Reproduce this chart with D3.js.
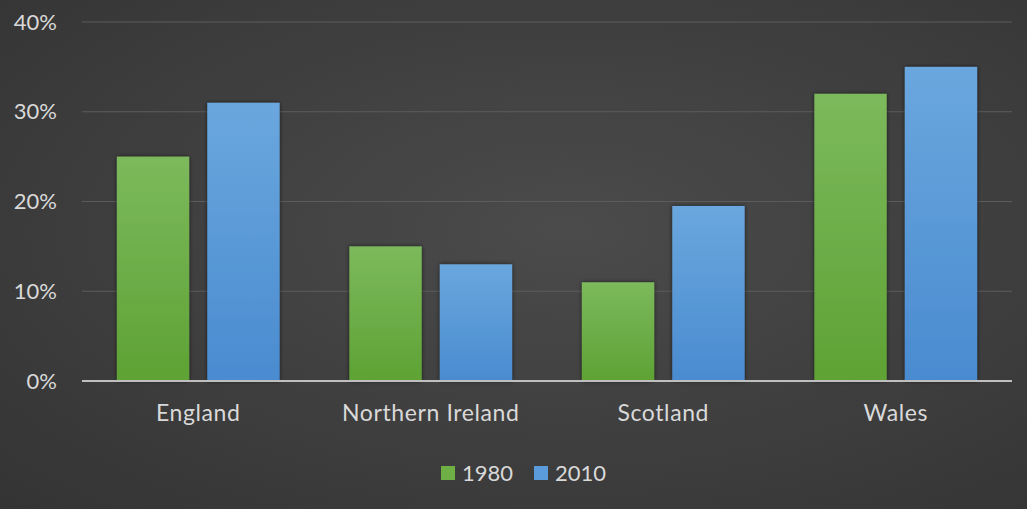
<!DOCTYPE html>
<html>
<head>
<meta charset="utf-8">
<script src="https://cdn.jsdelivr.net/npm/d3@7"></script>
<style>
  body { margin: 0; background: #3a3a3a; }
  svg { display: block; }
</style>
</head>
<body>
<svg id="chart" width="1027" height="509"></svg>
<script>
// data
var regions = ["England", "Northern Ireland", "Scotland", "Wales"];
var years = ["1980", "2010"];
var values1980 = [25, 15, 11, 32];
var values2010 = [31, 13, 19.5, 35];
var yTicks = [0, 10, 20, 30, 40];

var WIDTH = 1027, HEIGHT = 509;
var margin = {top: 22, right: 15, bottom: 128, left: 82};
var width = WIDTH - margin.left - margin.right;
var height = HEIGHT - margin.top - margin.bottom;
var FONT = "Lato, 'Open Sans', sans-serif";

var svg = d3.select("#chart");
var defs = svg.append("defs");

// background: dark radial-ish gradient
var bg = defs.append("radialGradient").attr("id", "bg")
    .attr("cx", "55%").attr("cy", "45%").attr("r", "80%");
bg.append("stop").attr("offset", "0%").attr("stop-color", "#4b4b4b");
bg.append("stop").attr("offset", "100%").attr("stop-color", "#333333");

function barGradient(id, top, bottom) {
    var gr = defs.append("linearGradient").attr("id", id)
        .attr("x1", 0).attr("y1", 0).attr("x2", 0).attr("y2", 1);
    gr.append("stop").attr("offset", "0%").attr("stop-color", top);
    gr.append("stop").attr("offset", "100%").attr("stop-color", bottom);
}
barGradient("g1980", "#7cb95c", "#5ea234");
barGradient("g2010", "#6aa7de", "#4a8bd0");

var shadow = defs.append("filter").attr("id", "shadow")
    .attr("x", "-20%").attr("y", "-20%").attr("width", "140%").attr("height", "140%");
shadow.append("feDropShadow").attr("dx", 0).attr("dy", 0)
    .attr("stdDeviation", 2).attr("flood-color", "#000").attr("flood-opacity", 0.6);

svg.append("rect").attr("width", WIDTH).attr("height", HEIGHT).attr("fill", "url(#bg)");

var g = svg.append("g").attr("transform", "translate(" + margin.left + "," + margin.top + ")");

var xScale = d3.scaleBand().domain(regions).range([0, width])
    .paddingInner(0.3).paddingOuter(0.15);
var xSub = d3.scaleBand().domain(years).range([0, xScale.bandwidth()])
    .paddingInner(0.2).paddingOuter(0);
var yScale = d3.scaleLinear().domain([0, 40]).range([height, 0]);

// gridlines
g.selectAll(".grid")
    .data(yTicks.slice(1))
    .enter().append("line")
    .attr("x1", 0).attr("x2", width)
    .attr("y1", function(d) { return yScale(d); })
    .attr("y2", function(d) { return yScale(d); })
    .attr("stroke", "#5c5c5c")
    .attr("stroke-width", 1.2);

// y axis labels
var yAxis = g.append("g")
    .call(d3.axisLeft(yScale).tickValues(yTicks).tickSize(0).tickPadding(25)
        .tickFormat(function(d) { return d + "%"; }));
yAxis.select(".domain").remove();
yAxis.selectAll("text")
    .attr("fill", "#d9d9d9")
    .style("font-family", FONT)
    .style("font-size", "22px");

// bars
var rows = regions.map(function(r, i) {
    return {region: r, vals: [{year: "1980", v: values1980[i]}, {year: "2010", v: values2010[i]}]};
});

var groups = g.selectAll(".region")
    .data(rows)
    .enter().append("g")
    .attr("transform", function(d) { return "translate(" + xScale(d.region) + ",0)"; });

groups.selectAll("rect")
    .data(function(d) { return d.vals; })
    .enter().append("rect")
    .attr("x", function(d) { return xSub(d.year); })
    .attr("y", function(d) { return yScale(d.v); })
    .attr("width", xSub.bandwidth())
    .attr("height", function(d) { return height - yScale(d.v); })
    .attr("fill", function(d) { return "url(#g" + d.year + ")"; })
    .attr("filter", "url(#shadow)");

// baseline
g.append("line")
    .attr("x1", 0).attr("x2", width)
    .attr("y1", yScale(0)).attr("y2", yScale(0))
    .attr("stroke", "#bfbfbf")
    .attr("stroke-width", 2);

// x axis labels
var xAxis = g.append("g")
    .attr("transform", "translate(0," + height + ")")
    .call(d3.axisBottom(xScale).tickSize(0).tickPadding(24));
xAxis.select(".domain").remove();
xAxis.selectAll("text")
    .attr("fill", "#d9d9d9")
    .style("font-family", FONT)
    .style("font-size", "23px")
    .style("letter-spacing", "0.6px");

// legend
var legend = svg.append("g").attr("transform", "translate(441,473)");
var legendX = [0, 93];
var legendFill = {"1980": "#6fb046", "2010": "#5b9bdc"};
var items = legend.selectAll(".item")
    .data(years)
    .enter().append("g")
    .attr("transform", function(d, i) { return "translate(" + legendX[i] + ",0)"; });
items.append("rect")
    .attr("x", 0).attr("y", -7).attr("width", 14).attr("height", 14)
    .attr("fill", function(d) { return legendFill[d]; });
items.append("text")
    .attr("x", 21).attr("dy", "0.35em")
    .attr("fill", "#d9d9d9")
    .style("font-family", FONT)
    .style("font-size", "22px")
    .text(function(d) { return d; });
</script>
</body>
</html>
